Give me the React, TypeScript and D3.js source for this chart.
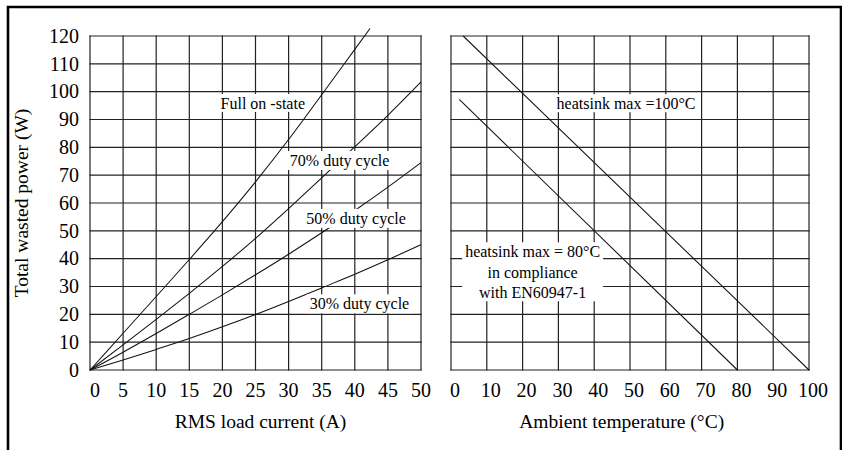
import React, { useEffect, useRef } from "react";
import * as d3 from "d3";

// ---- data ----
const powerTicks = [0, 10, 20, 30, 40, 50, 60, 70, 80, 90, 100, 110, 120];
const currentTicks = [0, 5, 10, 15, 20, 25, 30, 35, 40, 45, 50];
const tempTicks = [0, 10, 20, 30, 40, 50, 60, 70, 80, 90, 100];

const currentA = [0, 5, 10, 15, 20, 25, 30, 35, 40, 45, 50];
const fullOnCurrent = [0, 5, 10, 15, 20, 25, 30, 35, 40, 42.3];
const fullOnPower = [0, 13.2, 26.4, 39.7, 53.3, 67.6, 82.8, 98.9, 115.2, 122.7];
const duty70Power = [0, 9, 18.2, 27.5, 37.2, 47.3, 58, 69, 80.2, 91.5, 103.5];
const duty50Power = [0, 6.4, 13.1, 20, 27, 34.2, 41.6, 49.3, 57.3, 65.7, 74.5];
const duty30Power = [0, 3.6, 7.4, 11.3, 15.5, 19.9, 24.6, 29.5, 34.4, 39.6, 45];

const hs100Temp = [3.4, 100];
const hs100Power = [120, 0];
const hs80Temp = [2.3, 80];
const hs80Power = [97.2, 0];

const leftLabels = [
  { lines: ["Full on -state"], x: 26.1, y: 93.8 },
  { lines: ["70% duty cycle"], x: 37.7, y: 73.3 },
  { lines: ["50% duty cycle"], x: 40.2, y: 52.5 },
  { lines: ["30% duty cycle"], x: 40.7, y: 21.8 },
];
const rightLabels = [
  { lines: ["heatsink max =100°C"], x: 48.9, y: 93.7 },
  { lines: ["heatsink max = 80°C", "in compliance", "with EN60947-1"], x: 22.8, y: 40.5 },
];

const yTitle = "Total wasted power (W)";
const xTitleLeft = "RMS load current (A)";
const xTitleRight = "Ambient temperature (°C)";

export default function App() {
  const ref = useRef<SVGSVGElement>(null);

  useEffect(() => {
    const svg = d3.select(ref.current);
    svg.selectAll("*").remove();
    const font = "'Liberation Serif', 'Times New Roman', serif";

    const y = d3.scaleLinear().domain([0, 120]).range([370, 36]);
    const xA = d3.scaleLinear().domain([0, 50]).range([90, 421]);
    const xT = d3.scaleLinear().domain([0, 100]).range([451, 809]);

    svg.append("rect").attr("width", 842).attr("height", 450).attr("fill", "#fff");

    // frame (open at the bottom)
    svg.append("path")
      .attr("d", "M8,452 V7 H841 V452")
      .attr("fill", "none").attr("stroke", "#000").attr("stroke-width", 2.6);

    const grid = svg.append("g").attr("stroke", "#222").attr("stroke-width", 1.2);
    const drawGrid = (x: d3.ScaleLinear<number, number>, ticks: number[]) => {
      const [x0, x1] = x.range();
      grid.selectAll(null).data(powerTicks).enter().append("line")
        .attr("x1", x0 - 0.6).attr("x2", x1 + 0.6)
        .attr("y1", (d) => y(d)).attr("y2", (d) => y(d));
      grid.selectAll(null).data(ticks).enter().append("line")
        .attr("x1", (d) => x(d)).attr("x2", (d) => x(d))
        .attr("y1", y(0) + 0.6).attr("y2", y(120) - 0.6);
    };
    drawGrid(xA, currentTicks);
    drawGrid(xT, tempTicks);

    // curves
    const curves = svg.append("g").attr("fill", "none").attr("stroke", "#111").attr("stroke-width", 1.05);
    const lineA = d3.line<[number, number]>()
      .x((d) => xA(d[0])).y((d) => y(d[1])).curve(d3.curveMonotoneX);
    const lineT = d3.line<[number, number]>()
      .x((d) => xT(d[0])).y((d) => y(d[1]));
    const zipA = (xs: number[], ys: number[]) => xs.map((v, i) => [v, ys[i]] as [number, number]);
    curves.append("path").attr("d", lineA(zipA(fullOnCurrent, fullOnPower)));
    curves.append("path").attr("d", lineA(zipA(currentA, duty70Power)));
    curves.append("path").attr("d", lineA(zipA(currentA, duty50Power)));
    curves.append("path").attr("d", lineA(zipA(currentA, duty30Power)));
    curves.append("path").attr("d", lineT(zipA(hs100Temp, hs100Power)));
    curves.append("path").attr("d", lineT(zipA(hs80Temp, hs80Power)));

    // labels with white boxes
    const drawLabel = (x: d3.ScaleLinear<number, number>, lab: { lines: string[]; x: number; y: number }) => {
      const g = svg.append("g");
      const rect = g.append("rect").attr("fill", "#fff");
      const t = g.append("text")
        .attr("font-family", font).attr("font-size", 16).attr("fill", "#000")
        .attr("text-anchor", "middle");
      lab.lines.forEach((s, i) => {
        t.append("tspan").attr("x", x(lab.x)).attr("y", y(lab.y) + i * 20.5).text(s);
      });
      const bb = (t.node() as SVGTextElement).getBBox();
      rect.attr("x", bb.x - 3).attr("y", bb.y - 1).attr("width", bb.width + 6).attr("height", bb.height + 1);
    };
    leftLabels.forEach((l) => drawLabel(xA, l));
    rightLabels.forEach((l) => drawLabel(xT, l));

    // tick labels
    const tl = svg.append("g").attr("font-family", font).attr("font-size", 20).attr("fill", "#000");
    tl.selectAll(null).data(powerTicks).enter().append("text")
      .attr("x", 79).attr("y", (d) => y(d)).attr("dy", "0.34em")
      .attr("text-anchor", "end").text((d) => d);
    tl.selectAll(null).data(currentTicks).enter().append("text")
      .attr("x", (d) => xA(d) + (d === 0 ? 5 : 0)).attr("y", 397)
      .attr("text-anchor", "middle").text((d) => d);
    tl.selectAll(null).data(tempTicks).enter().append("text")
      .attr("x", (d) => xT(d) + 4).attr("y", 397)
      .attr("text-anchor", "middle").text((d) => d);

    // axis titles
    const tt = svg.append("g").attr("font-family", font).attr("font-size", 19.5).attr("fill", "#000");
    tt.append("text").attr("x", 260.5).attr("y", 428).attr("text-anchor", "middle").text(xTitleLeft);
    tt.append("text").attr("x", 621.7).attr("y", 428).attr("text-anchor", "middle").text(xTitleRight);
    tt.append("text").attr("transform", "translate(28,203) rotate(-90)")
      .attr("text-anchor", "middle").text(yTitle);
  }, []);

  return (
    <svg ref={ref} width={842} height={450}
      style={{ position: "absolute", left: 0, top: 0, display: "block" }} />
  );
}
